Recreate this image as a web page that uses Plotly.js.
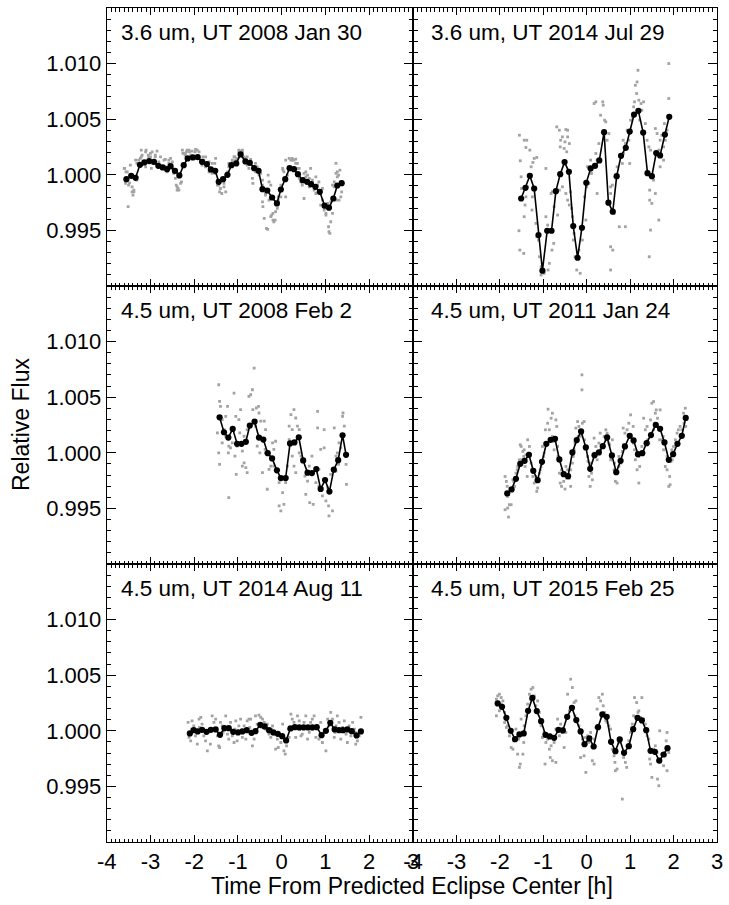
<!DOCTYPE html>
<html>
<head>
<meta charset="utf-8">
<script src="https://cdn.plot.ly/plotly-3.0.1.min.js"></script>
<style>html,body{margin:0;padding:0;background:#fff;}#plot{width:729px;height:905px;}</style>
</head>
<body>
<div id="plot"></div>
<script>
// ---------------- DATA ----------------
const panelTitles = [
  "3.6 um, UT 2008 Jan 30", "3.6 um, UT 2014 Jul 29",
  "4.5 um, UT 2008 Feb 2",  "4.5 um, UT 2011 Jan 24",
  "4.5 um, UT 2014 Aug 11", "4.5 um, UT 2015 Feb 25"
];
const xTickVals = [-4, -3, -2, -1, 0, 1, 2, 3];
const xTickText = ["-4", "-3", "-2", "-1", "0", "1", "2", "3"];
const yTickVals = [0.995, 1.000, 1.005, 1.010];
const yTickText = ["0.995", "1.000", "1.005", "1.010"];
const xTitle = "Time From Predicted Eclipse Center [h]";
const yTitle = "Relative Flux";

// binned light curves [time (h), relative flux]
const bin1 = [[-3.55,0.99961],[-3.44,0.99991],[-3.34,0.99973],[-3.24,1.00090],[-3.14,1.00111],[-3.03,1.00123],[-2.92,1.00117],[-2.82,1.00081],[-2.72,1.00066],[-2.62,1.00051],[-2.54,1.00078],[-2.44,1.00036],[-2.34,0.99994],[-2.24,1.00087],[-2.15,1.00147],[-2.03,1.00156],[-1.92,1.00159],[-1.82,1.00117],[-1.71,1.00096],[-1.62,1.00048],[-1.52,1.00036],[-1.44,0.99937],[-1.34,0.99961],[-1.24,1.00000],[-1.15,1.00087],[-1.04,1.00102],[-0.94,1.00183],[-0.83,1.00120],[-0.73,1.00108],[-0.63,1.00060],[-0.53,1.00036],[-0.44,0.99871],[-0.33,0.99859],[-0.22,0.99796],[-0.11,0.99743],[-0.02,0.99868],[0.08,0.99961],[0.18,1.00060],[0.28,1.00051],[0.37,1.00006],[0.48,0.99952],[0.58,0.99937],[0.67,0.99916],[0.77,0.99892],[0.87,0.99847],[0.98,0.99722],[1.08,0.99704],[1.18,0.99787],[1.27,0.99904],[1.37,0.99925]];
const bin2 = [[-1.51,0.99787],[-1.41,0.99883],[-1.31,0.99991],[-1.21,0.99877],[-1.11,0.99458],[-1.02,0.99138],[-0.91,0.99497],[-0.81,0.99497],[-0.71,0.99853],[-0.61,1.00006],[-0.51,1.00114],[-0.41,1.00027],[-0.31,0.99539],[-0.21,0.99254],[-0.11,0.99524],[-0.01,0.99928],[0.09,1.00057],[0.19,1.00081],[0.29,1.00129],[0.40,1.00383],[0.50,0.99749],[0.60,0.99668],[0.69,0.99988],[0.79,1.00171],[0.90,1.00243],[0.99,1.00389],[1.09,1.00542],[1.19,1.00575],[1.30,1.00380],[1.40,1.00015],[1.50,0.99988],[1.60,1.00195],[1.69,1.00174],[1.80,1.00362],[1.90,1.00521]];
const bin3 = [[-1.42,1.00319],[-1.32,1.00185],[-1.22,1.00137],[-1.12,1.00215],[-1.02,1.00081],[-0.92,1.00081],[-0.82,1.00099],[-0.73,1.00245],[-0.62,1.00281],[-0.52,1.00137],[-0.42,1.00119],[-0.32,0.99997],[-0.22,0.99949],[-0.11,0.99842],[-0.02,0.99773],[0.09,0.99773],[0.19,1.00084],[0.29,1.00093],[0.39,1.00140],[0.49,0.99931],[0.59,0.99821],[0.69,0.99818],[0.79,0.99854],[0.89,0.99675],[0.99,0.99755],[1.09,0.99651],[1.19,0.99848],[1.29,0.99934],[1.39,1.00158],[1.47,0.99982]];
const bin4 = [[-1.83,0.99635],[-1.73,0.99671],[-1.63,0.99766],[-1.53,0.99901],[-1.43,0.99928],[-1.33,0.99982],[-1.23,0.99838],[-1.13,0.99754],[-1.03,0.99919],[-0.93,1.00081],[-0.83,1.00117],[-0.73,1.00126],[-0.63,0.99940],[-0.53,0.99808],[-0.43,0.99790],[-0.33,1.00003],[-0.23,1.00114],[-0.13,1.00192],[-0.02,1.00048],[0.08,0.99856],[0.18,0.99979],[0.28,1.00003],[0.37,1.00060],[0.47,1.00138],[0.58,0.99976],[0.68,0.99826],[0.78,0.99928],[0.88,1.00057],[0.99,1.00153],[1.08,1.00111],[1.18,0.99988],[1.28,0.99997],[1.38,1.00087],[1.48,1.00159],[1.59,1.00251],[1.69,1.00216],[1.79,1.00093],[1.89,0.99937],[1.99,0.99988],[2.09,1.00081],[2.19,1.00153],[2.28,1.00314]];
const bin5 = [[-2.10,0.99976],[-2.01,1.00006],[-1.92,0.99994],[-1.82,1.00009],[-1.72,0.99991],[-1.62,1.00009],[-1.51,1.00012],[-1.41,0.99964],[-1.31,1.00024],[-1.21,1.00024],[-1.11,0.99991],[-1.00,0.99985],[-0.90,0.99994],[-0.80,1.00006],[-0.69,0.99982],[-0.60,0.99997],[-0.49,1.00054],[-0.39,1.00039],[-0.29,1.00006],[-0.19,0.99985],[-0.09,0.99973],[0.01,0.99952],[0.10,0.99913],[0.20,1.00021],[0.30,1.00033],[0.40,1.00030],[0.50,1.00030],[0.60,1.00030],[0.70,1.00030],[0.80,1.00033],[0.91,0.99961],[1.01,1.00000],[1.11,1.00072],[1.21,1.00012],[1.31,1.00006],[1.40,1.00006],[1.50,1.00012],[1.60,0.99997],[1.71,0.99958],[1.81,0.99994]];
const bin6 = [[-2.05,1.00246],[-1.95,1.00216],[-1.85,1.00117],[-1.75,1.00000],[-1.65,0.99925],[-1.55,0.99967],[-1.45,0.99976],[-1.35,1.00180],[-1.25,1.00296],[-1.15,1.00177],[-1.05,1.00087],[-0.95,0.99964],[-0.85,0.99949],[-0.75,0.99937],[-0.65,1.00009],[-0.55,1.00003],[-0.45,1.00126],[-0.34,1.00207],[-0.24,1.00096],[-0.14,0.99994],[-0.05,0.99880],[0.06,0.99931],[0.16,0.99859],[0.26,1.00033],[0.36,1.00147],[0.46,1.00126],[0.56,0.99901],[0.66,0.99817],[0.76,0.99922],[0.86,0.99802],[0.97,0.99862],[1.07,1.00015],[1.17,1.00117],[1.27,1.00093],[1.37,1.00006],[1.47,0.99820],[1.57,0.99811],[1.67,0.99731],[1.77,0.99787],[1.86,0.99844]];

// unbinned measurements [time (h), relative flux]
const raw1 = [[-3.60,1.00057],[-3.56,1.00027],[-3.57,0.99922],[-3.50,0.99907],[-3.51,0.99713],[-3.42,0.99847],[-3.38,0.99862],[-3.40,0.99817],[-3.46,1.00087],[-3.34,1.00132],[-3.31,1.00102],[-3.23,1.00147],[-3.21,1.00222],[-3.19,1.00177],[-3.15,1.00117],[-3.10,1.00222],[-3.11,1.00072],[-3.04,1.00162],[-3.00,1.00192],[-2.96,1.00207],[-2.98,1.00057],[-2.92,1.00123],[-2.89,1.00177],[-2.85,1.00213],[-2.81,1.00117],[-2.81,1.00072],[-2.75,1.00057],[-2.69,1.00132],[-2.66,1.00072],[-2.62,1.00027],[-2.58,1.00102],[-2.54,1.00147],[-2.50,1.00057],[-2.47,1.00027],[-2.43,0.99967],[-2.41,0.99907],[-2.39,0.99862],[-2.37,0.99877],[-2.31,0.99922],[-2.27,1.00222],[-2.26,1.00192],[-2.21,1.00177],[-2.18,1.00207],[-2.12,1.00222],[-2.08,1.00177],[-2.05,1.00213],[-1.98,1.00207],[-1.93,1.00222],[-1.95,1.00147],[-1.89,1.00147],[-1.85,1.00117],[-1.82,1.00087],[-1.78,1.00132],[-1.74,1.00072],[-1.70,1.00102],[-1.66,1.00027],[-1.63,1.00057],[-1.59,1.00012],[-1.51,1.00147],[-1.53,1.00102],[-1.47,0.99952],[-1.44,0.99907],[-1.40,0.99877],[-1.36,0.99967],[-1.32,0.99922],[-1.28,0.99847],[-1.24,1.00027],[-1.21,1.00072],[-1.17,1.00087],[-1.13,1.00117],[-1.09,1.00162],[-1.05,1.00132],[-1.02,1.00147],[-0.98,1.00222],[-0.94,1.00213],[-0.90,1.00222],[-0.86,1.00162],[-0.82,1.00147],[-0.79,1.00087],[-0.75,1.00057],[-0.71,1.00117],[-0.67,0.99967],[-0.66,0.99922],[-0.60,1.00027],[-0.56,1.00072],[-0.52,0.99997],[-0.48,1.00012],[-0.44,0.99907],[-0.44,0.99757],[-0.43,0.99713],[-0.40,0.99608],[-0.37,0.99817],[-0.33,0.99862],[-0.35,0.99518],[-0.32,0.99509],[-0.29,0.99937],[-0.31,0.99997],[-0.25,0.99907],[-0.23,0.99638],[-0.20,0.99593],[-0.18,0.99578],[-0.14,0.99668],[-0.10,0.99698],[-0.08,0.99802],[-0.02,0.99907],[0.02,1.00057],[0.05,1.00027],[0.09,0.99802],[0.13,0.99997],[0.17,1.00057],[0.21,1.00132],[0.24,1.00147],[0.28,1.00132],[0.32,1.00141],[0.36,1.00102],[0.38,1.00057],[0.40,0.99967],[0.44,0.99937],[0.47,0.99907],[0.51,0.99787],[0.55,1.00027],[0.59,0.99997],[0.63,0.99967],[0.66,1.00057],[0.70,0.99952],[0.74,0.99862],[0.78,0.99832],[0.82,0.99907],[0.85,0.99937],[0.89,0.99728],[0.93,0.99877],[0.97,0.99683],[1.01,0.99638],[1.05,0.99698],[1.07,0.99533],[1.08,0.99488],[1.10,0.99473],[1.12,0.99757],[1.16,0.99907],[1.20,0.99937],[1.24,1.00102],[1.27,1.00027],[1.30,0.99997],[1.33,1.00042],[1.35,0.99802],[1.37,0.99847],[1.25,0.99772],
  [-3.59,1.00057],[-3.53,1.00027],[-3.48,0.99928],[-3.42,0.99892],[-3.38,0.99847],[-3.31,0.99952],[-3.27,1.00132],[-3.21,1.00162],[-3.11,1.00207],[-3.05,1.00177],[-3.00,1.00162],[-2.96,1.00102],[-2.89,1.00162],[-2.77,1.00162],[-2.66,1.00138],[-2.58,1.00132],[-2.50,1.00117],[-2.47,1.00012],[-2.39,0.99892],[-2.35,0.99862],[-2.29,0.99937],[-2.20,1.00192],[-2.16,1.00222],[-2.11,1.00207],[-1.97,1.00228],[-1.89,1.00207],[-1.80,1.00162],[-1.74,1.00162],[-1.66,1.00117],[-1.59,1.00102],[-1.51,1.00012],[-1.47,0.99907],[-1.42,0.99847],[-1.37,0.99832],[-1.32,0.99892],[-1.28,0.99997],[-1.21,1.00102],[-1.13,1.00132],[-1.07,1.00162],[-0.98,1.00207],[-0.90,1.00207],[-0.79,1.00162],[-0.71,1.00138],[-0.60,1.00102],[-0.52,1.00042],[-0.44,0.99952],[-0.37,0.99832],[-0.29,0.99772],[-0.25,0.99623],[-0.20,0.99653],[-0.15,0.99593],[-0.08,0.99772],[-0.02,0.99802],[0.03,1.00042],[0.09,1.00132],[0.17,1.00147],[0.24,1.00132],[0.32,1.00102],[0.40,1.00057],[0.44,0.99937],[0.51,1.00012],[0.55,0.99982],[0.63,0.99892],[0.70,0.99937],[0.78,0.99982],[0.82,0.99907],[0.89,0.99832],[0.93,0.99772],[1.01,0.99653],[1.05,0.99743],[1.12,0.99578],[1.16,0.99653],[1.20,0.99892],[1.24,1.00012],[1.27,0.99982],[1.31,0.99772],[1.35,0.99937]];
const raw2 = [[-1.55,1.00356],[-1.53,1.00126],[-1.51,0.99982],[-1.50,0.99877],[-1.56,0.99497],[-1.54,0.99323],[-1.45,0.99293],[-1.44,1.00311],[-1.38,1.00311],[-1.40,1.00246],[-1.31,1.00222],[-1.28,1.00072],[-1.24,1.00111],[-1.32,0.99982],[-1.36,0.99892],[-1.21,1.00147],[-1.15,1.00156],[-1.25,0.99802],[-1.40,0.99802],[-1.42,0.99728],[-1.44,0.99623],[-1.26,0.99683],[-1.17,0.99563],[-1.15,0.99443],[-1.11,0.99413],[-1.09,0.99263],[-1.05,0.99174],[-1.05,0.99099],[-0.98,0.99114],[-0.94,0.99623],[-0.90,0.99548],[-0.94,1.00057],[-0.82,0.99832],[-0.79,0.99847],[-0.75,0.99713],[-0.67,0.99638],[-0.76,0.99383],[-0.80,0.99323],[-0.86,0.99204],[-0.89,0.99144],[-0.69,1.00431],[-0.63,1.00401],[-0.60,1.00311],[-0.56,1.00341],[-0.48,1.00407],[-0.44,1.00401],[-0.61,1.00251],[-0.52,1.00237],[-0.50,1.00296],[-0.46,1.00207],[-0.44,1.00341],[-0.40,1.00281],[-0.63,0.99862],[-0.56,0.99892],[-0.48,0.99832],[-0.37,0.99847],[-0.44,0.99772],[-0.40,0.99728],[-0.35,0.99698],[-0.33,0.99623],[-0.29,0.99473],[-0.31,0.99413],[-0.27,0.99263],[-0.23,0.99144],[-0.18,0.99323],[-0.15,0.99114],[-0.10,0.99413],[-0.10,0.99533],[-0.02,0.99593],[-0.05,0.99802],[0.00,0.99892],[0.05,0.99922],[0.02,1.00072],[0.11,1.00012],[0.09,1.00132],[0.21,1.00192],[0.23,1.00072],[0.24,1.00132],[0.28,1.00281],[0.24,0.99832],[0.17,1.00641],[0.21,1.00656],[0.32,1.00536],[0.37,1.00656],[0.38,1.00626],[0.41,1.00491],[0.44,1.00476],[0.47,1.00311],[0.51,1.00371],[0.55,0.99892],[0.59,0.99907],[0.55,0.99832],[0.63,0.99653],[0.55,0.99353],[0.60,0.99323],[0.55,0.99144],[0.65,0.99982],[0.70,1.00072],[0.75,0.99533],[0.82,1.00102],[0.84,1.00311],[0.85,1.00192],[0.89,1.00281],[0.93,1.00401],[0.89,0.99533],[0.97,1.00311],[1.01,1.00491],[1.05,1.00521],[0.99,1.00102],[1.08,1.00611],[1.10,1.00656],[1.15,1.00731],[1.12,1.00805],[1.16,1.00835],[1.18,1.00940],[1.20,1.00671],[1.25,1.00641],[1.27,1.00581],[1.22,1.00491],[1.31,1.00656],[1.35,1.00461],[1.39,1.00311],[1.43,1.00251],[1.47,1.00222],[1.50,0.99982],[1.54,0.99952],[1.58,0.99832],[1.45,0.99862],[1.50,0.99743],[1.58,1.00416],[1.62,1.00371],[1.69,1.00311],[1.73,1.00356],[1.77,1.00251],[1.81,1.00311],[1.85,1.00401],[1.79,1.00461],[1.89,1.00686],[1.89,1.01000],[1.66,1.00222],[1.66,0.99593],[1.47,0.99503],[1.44,0.99263],[1.69,1.00072],[1.77,1.00132],[1.45,0.99772]];
const raw3 = [[-1.44,1.00612],[-1.42,1.00463],[-1.40,1.00418],[-1.45,1.00328],[-1.47,1.00179],[-1.44,1.00000],[-1.42,0.99896],[-1.36,1.00299],[-1.32,1.00209],[-1.28,1.00328],[-1.24,1.00418],[-1.21,1.00060],[-1.17,1.00045],[-1.28,1.00149],[-1.22,1.00000],[-1.09,1.00537],[-1.05,1.00328],[-1.07,0.99970],[-1.04,0.99806],[-0.98,1.00299],[-0.94,1.00388],[-0.96,1.00179],[-0.90,1.00015],[-0.86,0.99910],[-0.82,0.99866],[-0.79,0.99821],[-0.90,0.99881],[-0.75,1.00507],[-0.71,1.00522],[-0.67,1.00567],[-0.63,1.00761],[-0.66,1.00388],[-0.58,1.00403],[-0.53,1.00418],[-0.52,1.00358],[-0.48,1.00284],[-0.56,1.00060],[-0.50,1.00000],[-0.44,1.00119],[-0.40,1.00284],[-0.37,1.00209],[-0.38,1.00030],[-0.44,0.99821],[-0.33,0.99672],[-0.29,0.99851],[-0.25,0.99881],[-0.21,1.00090],[-0.18,1.00030],[-0.14,1.00104],[-0.10,0.99836],[-0.06,0.99731],[-0.06,0.99522],[-0.02,0.99478],[0.02,0.99642],[0.05,0.99537],[0.09,0.99731],[0.13,0.99881],[0.17,1.00239],[0.21,1.00343],[0.24,1.00209],[0.28,1.00388],[0.32,1.00313],[0.36,1.00239],[0.40,1.00209],[0.24,0.99970],[0.28,0.99881],[0.32,0.99821],[0.44,0.99970],[0.47,0.99940],[0.53,0.99791],[0.55,0.99627],[0.59,0.99746],[0.64,0.99552],[0.69,0.99970],[0.72,0.99537],[0.78,0.99731],[0.82,1.00373],[0.82,1.00224],[0.85,0.99851],[0.89,1.00030],[0.93,0.99612],[0.97,1.00209],[0.97,1.00045],[1.01,0.99567],[1.05,0.99687],[1.07,0.99522],[1.08,0.99433],[1.12,0.99806],[1.16,0.99478],[1.20,1.00224],[1.24,0.99836],[1.27,1.00000],[1.30,0.99896],[1.35,1.00045],[1.39,1.00328],[1.40,1.00358],[1.43,1.00239],[1.47,0.99896],[1.48,0.99716],[-1.21,0.99597],[-1.36,1.00090],[-1.13,1.00090],[-1.02,1.00060],[-0.86,1.00149],[-0.79,1.00209],[-0.60,1.00239],[-0.37,1.00000],[-0.18,0.99881],[0.05,0.99761],[0.17,1.00119],[0.40,1.00000],[0.63,0.99881],[0.85,0.99701],[1.24,0.99970],[1.31,1.00090]];
const raw4 = [[-1.88,0.99787],[-1.85,0.99743],[-1.83,0.99698],[-1.88,0.99488],[-1.82,0.99503],[-1.78,0.99533],[-1.80,0.99422],[-1.74,0.99533],[-1.70,0.99757],[-1.66,0.99698],[-1.63,0.99817],[-1.59,0.99877],[-1.55,0.99937],[-1.53,1.00072],[-1.51,1.00057],[-1.47,1.00012],[-1.44,1.00027],[-1.40,0.99982],[-1.42,0.99877],[-1.36,1.00117],[-1.32,1.00057],[-1.37,0.99787],[-1.28,0.99907],[-1.24,0.99787],[-1.21,0.99728],[-1.15,0.99653],[-1.13,0.99683],[-1.09,0.99817],[-1.05,0.99877],[-1.02,1.00057],[-0.98,0.99997],[-0.95,1.00207],[-0.90,1.00266],[-0.86,1.00207],[-0.89,1.00392],[-0.82,1.00311],[-0.79,1.00356],[-0.71,1.00296],[-0.69,1.00237],[-0.75,1.00027],[-0.67,1.00057],[-0.63,0.99817],[-0.61,0.99728],[-0.58,0.99698],[-0.53,0.99743],[-0.50,0.99674],[-0.48,0.99877],[-0.44,0.99847],[-0.40,0.99772],[-0.37,0.99698],[-0.33,0.99907],[-0.31,0.99967],[-0.27,1.00087],[-0.25,1.00222],[-0.21,1.00281],[-0.18,1.00237],[-0.15,1.00147],[-0.11,1.00701],[-0.11,1.00566],[-0.10,1.00266],[-0.06,1.00281],[-0.05,1.00117],[0.00,1.00057],[0.03,0.99922],[0.05,0.99787],[0.08,0.99698],[0.11,0.99817],[0.13,0.99757],[0.17,1.00132],[0.21,1.00057],[0.24,0.99937],[0.28,1.00087],[0.31,1.00177],[0.36,1.00057],[0.40,1.00147],[0.44,1.00207],[0.47,1.00177],[0.51,1.00087],[0.55,0.99937],[0.59,1.00117],[0.63,0.99847],[0.66,0.99743],[0.70,0.99728],[0.74,0.99967],[0.78,0.99907],[0.82,1.00012],[0.84,1.00222],[0.88,1.00177],[0.93,1.00207],[0.97,1.00266],[1.01,1.00341],[1.02,1.00147],[1.07,1.00237],[1.10,1.00027],[1.12,0.99937],[1.16,0.99847],[1.20,0.99728],[1.22,0.99877],[1.27,1.00057],[1.31,1.00311],[1.35,1.00207],[1.39,1.00237],[1.43,1.00087],[1.47,1.00296],[1.50,1.00446],[1.54,1.00461],[1.58,1.00356],[1.60,1.00386],[1.63,1.00311],[1.66,1.00207],[1.68,1.00117],[1.69,1.00386],[1.73,1.00117],[1.77,1.00027],[1.81,0.99877],[1.85,0.99847],[1.89,0.99698],[1.92,0.99713],[1.91,0.99787],[1.94,0.99922],[1.96,1.00027],[2.00,1.00057],[2.04,1.00117],[2.08,1.00177],[2.11,1.00207],[2.15,1.00237],[2.19,1.00207],[2.23,1.00356],[2.27,1.00401],[2.28,1.00237],
  [-1.82,0.99608],[-1.76,0.99668],[-1.68,0.99743],[-1.60,0.99847],[-1.50,0.99937],[-1.45,0.99967],[-1.34,0.99997],[-1.27,0.99847],[-1.17,0.99787],[-1.07,0.99847],[-0.99,0.99967],[-0.92,1.00087],[-0.79,1.00147],[-0.75,1.00102],[-0.66,0.99967],[-0.58,0.99847],[-0.46,0.99772],[-0.37,0.99847],[-0.29,1.00027],[-0.20,1.00147],[-0.10,1.00177],[0.02,0.99967],[0.09,0.99907],[0.18,0.99997],[0.32,1.00027],[0.44,1.00117],[0.53,1.00072],[0.64,0.99907],[0.74,0.99877],[0.85,1.00072],[0.97,1.00147],[1.08,1.00087],[1.20,0.99967],[1.30,1.00012],[1.40,1.00117],[1.54,1.00207],[1.63,1.00237],[1.76,1.00147],[1.85,0.99967],[1.97,0.99937],[2.06,1.00087],[2.15,1.00147],[2.24,1.00266]];
const raw5 = [[-2.14,1.00075],[-2.12,0.99940],[-2.08,0.99910],[-2.05,1.00090],[-2.01,1.00045],[-1.97,0.99955],[-1.93,0.99880],[-1.89,1.00105],[-1.85,1.00120],[-1.82,1.00060],[-1.78,0.99955],[-1.74,0.99910],[-1.70,0.99820],[-1.63,0.99880],[-1.59,1.00135],[-1.55,1.00075],[-1.51,1.00105],[-1.47,0.99955],[-1.44,0.99865],[-1.42,0.99850],[-1.40,1.00075],[-1.36,1.00045],[-1.28,1.00135],[-1.24,0.99970],[-1.21,0.99925],[-1.17,1.00075],[-1.13,0.99955],[-1.09,0.99895],[-1.05,1.00090],[-1.02,0.99910],[-0.98,1.00045],[-0.94,1.00105],[-0.90,0.99940],[-0.86,1.00045],[-0.82,0.99925],[-0.79,1.00090],[-0.75,1.00105],[-0.71,1.00105],[-0.67,0.99865],[-0.63,0.99925],[-0.60,1.00135],[-0.56,1.00060],[-0.52,1.00141],[-0.48,1.00120],[-0.44,1.00105],[-0.40,1.00075],[-0.37,1.00015],[-0.33,1.00060],[-0.29,0.99970],[-0.25,0.99940],[-0.21,1.00045],[-0.18,0.99970],[-0.14,0.99835],[-0.10,0.99925],[-0.08,0.99850],[-0.02,0.99895],[0.02,1.00060],[0.05,0.99820],[0.08,0.99790],[0.11,0.99865],[0.17,0.99940],[0.21,1.00150],[0.24,1.00105],[0.28,1.00075],[0.32,0.99940],[0.36,1.00135],[0.40,1.00090],[0.44,0.99955],[0.47,0.99970],[0.51,1.00075],[0.55,1.00135],[0.59,0.99925],[0.63,0.99985],[0.66,1.00075],[0.70,1.00105],[0.74,1.00135],[0.78,0.99940],[0.82,1.00045],[0.85,0.99925],[0.89,1.00075],[0.93,0.99895],[1.01,0.99820],[1.05,1.00105],[1.08,1.00045],[1.12,1.00165],[1.16,1.00105],[1.20,0.99940],[1.24,1.00045],[1.27,1.00135],[1.31,1.00075],[1.35,0.99925],[1.39,1.00030],[1.43,1.00090],[1.47,0.99970],[1.50,0.99895],[1.54,1.00045],[1.58,0.99955],[1.62,1.00075],[1.66,1.00015],[1.69,0.99880],[1.73,0.99910],[1.77,0.99955],[1.81,1.00120],[-2.06,1.00015],[-1.88,1.00030],[-1.68,0.99985],[-1.34,0.99985],[-1.07,1.00015],[-0.73,1.00030],[-0.46,1.00030],[-0.23,1.00015],[0.15,1.00015],[0.41,1.00015],[0.69,1.00015],[0.97,0.99985],[1.22,0.99985],[1.48,1.00015],[1.68,0.99985]];
const raw6 = [[-2.08,1.00284],[-2.05,1.00314],[-2.01,1.00329],[-1.97,1.00299],[-1.93,1.00269],[-2.08,1.00135],[-2.01,1.00180],[-1.97,1.00240],[-1.89,1.00165],[-1.89,1.00075],[-1.85,1.00030],[-1.82,1.00045],[-1.78,0.99955],[-1.74,0.99850],[-1.70,0.99835],[-1.68,0.99910],[-1.63,1.00015],[-1.59,0.99790],[-1.55,0.99671],[-1.53,0.99701],[-1.57,0.99925],[-1.51,1.00105],[-1.47,0.99790],[-1.45,0.99895],[-1.44,1.00045],[-1.40,1.00135],[-1.36,1.00240],[-1.32,1.00329],[-1.28,1.00374],[-1.24,1.00389],[-1.30,1.00284],[-1.21,1.00314],[-1.17,1.00225],[-1.13,1.00269],[-1.09,1.00165],[-1.05,1.00045],[-1.02,0.99940],[-0.98,0.99985],[-0.96,0.99701],[-0.94,0.99895],[-0.90,0.99925],[-0.86,0.99835],[-0.84,0.99760],[-0.82,0.99865],[-0.79,0.99731],[-0.75,0.99895],[-0.71,1.00015],[-0.71,0.99716],[-0.67,1.00105],[-0.63,0.99955],[-0.60,1.00060],[-0.56,0.99985],[-0.52,0.99850],[-0.48,0.99985],[-0.44,1.00329],[-0.40,1.00180],[-0.37,1.00464],[-0.33,1.00389],[-0.29,1.00254],[-0.25,1.00269],[-0.27,1.00135],[-0.21,1.00105],[-0.18,1.00045],[-0.14,0.99985],[-0.10,0.99925],[-0.14,0.99760],[-0.06,0.99775],[-0.05,0.99940],[-0.02,0.99626],[0.02,0.99955],[0.05,0.99895],[0.09,0.99985],[0.13,0.99731],[0.17,0.99701],[0.18,0.99925],[0.21,1.00030],[0.24,1.00195],[0.28,1.00299],[0.32,1.00269],[0.36,1.00329],[0.38,1.00225],[0.41,1.00165],[0.44,1.00090],[0.47,1.00075],[0.51,1.00045],[0.55,1.00015],[0.59,0.99835],[0.63,0.99775],[0.65,0.99716],[0.66,0.99641],[0.70,0.99656],[0.69,0.99805],[0.74,0.99895],[0.78,0.99925],[0.82,0.99805],[0.82,0.99386],[0.85,0.99760],[0.89,0.99716],[0.92,0.99671],[0.93,0.99865],[0.97,0.99910],[1.01,0.99985],[1.05,1.00060],[1.08,1.00135],[1.10,1.00299],[1.15,1.00254],[1.18,1.00165],[1.20,1.00180],[1.24,1.00120],[1.27,1.00299],[1.31,1.00105],[1.35,1.00060],[1.39,0.99955],[1.43,0.99925],[1.45,0.99746],[1.47,0.99701],[1.50,0.99581],[1.54,0.99835],[1.58,0.99865],[1.62,0.99805],[1.63,0.99566],[1.66,0.99506],[1.68,1.00000],[1.69,0.99716],[1.73,0.99790],[1.77,0.99686],[1.81,0.99775],[1.83,0.99910],[1.85,0.99985],[1.89,0.99805],[1.85,0.99641]];

const binned = [bin1, bin2, bin3, bin4, bin5, bin6];
const raws = [raw1, raw2, raw3, raw4, raw5, raw6];

// ---------------- LAYOUT ----------------
const W = 729, H = 905;
const FONT = "Liberation Sans, Arial, Helvetica, sans-serif";
const colDom = [[106.7 / W, 413 / W], [413 / W, 717 / W]];
const rowPx = [[8, 286], [286, 564], [564, 842]];
const rowDom = rowPx.map(r => [1 - r[1] / H, 1 - r[0] / H]);

const traces = [];
const layout = {
  width: W, height: H,
  margin: {l: 0, r: 0, t: 0, b: 0},
  paper_bgcolor: "#fff", plot_bgcolor: "#fff",
  showlegend: false,
  font: {family: FONT, color: "#000", size: 22},
  annotations: []
};

for (let i = 0; i < 6; i++) {
  const row = Math.floor(i / 2), col = i % 2;
  const n = i + 1, sfx = n === 1 ? "" : String(n);
  traces.push({
    x: raws[i].map(p => p[0]), y: raws[i].map(p => p[1]),
    xaxis: "x" + sfx, yaxis: "y" + sfx,
    type: "scatter", mode: "markers",
    marker: {color: "#a3a3a3", size: 2.8, symbol: "square"},
    hoverinfo: "skip"
  });
  traces.push({
    x: binned[i].map(p => p[0]), y: binned[i].map(p => p[1]),
    xaxis: "x" + sfx, yaxis: "y" + sfx,
    type: "scatter", mode: "lines+markers",
    line: {color: "#000", width: 1.6},
    marker: {color: "#000", size: 6.2}
  });
  layout["xaxis" + sfx] = {
    domain: colDom[col], anchor: "y" + sfx, range: [-4, 3],
    tickmode: "array", tickvals: xTickVals, ticktext: xTickText,
    showticklabels: row === 2,
    ticks: "inside", ticklen: 7, tickwidth: 1, tickcolor: "#000",
    showline: true, linecolor: "#000", linewidth: 1, mirror: "allticks",
    showgrid: false, zeroline: false,
    minor: {dtick: 0.1, tick0: 0, ticks: "inside", ticklen: 3.5, tickwidth: 1, tickcolor: "#000", showgrid: false},
    tickfont: {family: FONT, size: 22, color: "#000"}
  };
  layout["yaxis" + sfx] = {
    domain: rowDom[row], anchor: "x" + sfx, range: [0.990, 1.015],
    tickmode: "array", tickvals: yTickVals, ticktext: yTickText,
    showticklabels: col === 0,
    ticks: "inside", ticklen: 9, tickwidth: 1, tickcolor: "#000",
    showline: true, linecolor: "#000", linewidth: 1, mirror: "allticks",
    showgrid: false, zeroline: false,
    minor: {dtick: 0.001, tick0: 1.0, ticks: "inside", ticklen: 4.5, tickwidth: 1, tickcolor: "#000", showgrid: false},
    tickfont: {family: FONT, size: 22, color: "#000"}
  };
  layout.annotations.push({
    text: panelTitles[i], showarrow: false,
    xref: "x" + sfx + " domain", yref: "y" + sfx + " domain",
    x: col === 0 ? 0.040 : 0.052, y: 1 - 24 / 278,
    xanchor: "left", yanchor: "middle",
    font: {family: FONT, size: 22.5, color: "#000"}
  });
}

layout.annotations.push({
  text: yTitle, showarrow: false, textangle: -90,
  xref: "paper", yref: "paper", x: 21 / W, y: 1 - 425 / H,
  xanchor: "center", yanchor: "middle",
  font: {family: FONT, size: 23, color: "#000"}
});
layout.annotations.push({
  text: xTitle, showarrow: false,
  xref: "paper", yref: "paper", x: 412 / W, y: 1 - 886 / H,
  xanchor: "center", yanchor: "middle",
  font: {family: FONT, size: 23, color: "#000"}
});

Plotly.newPlot("plot", traces, layout, {displayModeBar: false, staticPlot: true});
</script>
</body>
</html>
